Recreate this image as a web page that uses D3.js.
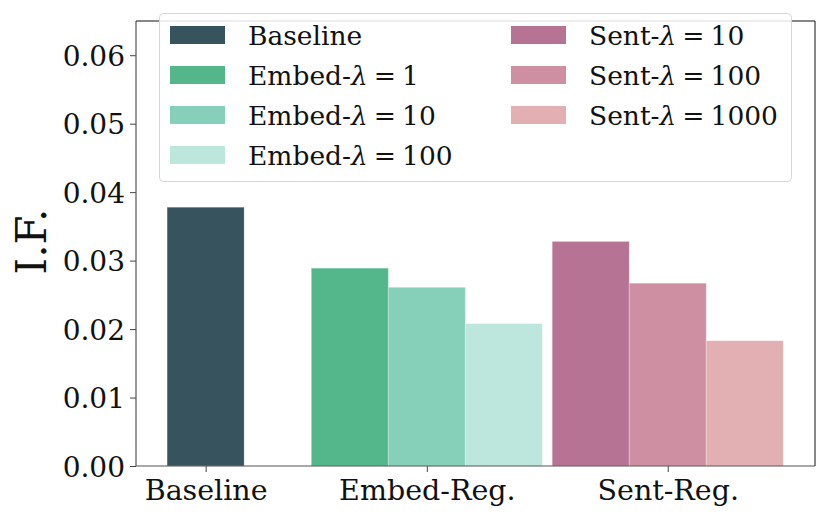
<!DOCTYPE html>
<html><head><meta charset="utf-8">
<script src="https://cdn.jsdelivr.net/npm/d3@7"></script>
<style>body{margin:0;background:#fff}svg{display:block}text{font-family:"DejaVu Serif",serif}</style>
</head><body>
<svg id="chart" width="830" height="519"></svg>
<script>
const categories = ["Baseline", "Embed-Reg.", "Sent-Reg."];
const seriesNames = ["Baseline", "Embed-λ=1", "Embed-λ=10", "Embed-λ=100", "Sent-λ=10", "Sent-λ=100", "Sent-λ=1000"];
const seriesGroup = [0, 1, 1, 1, 2, 2, 2];
const seriesOffset = [0, -1, 0, 1, -1, 0, 1];
const seriesValues = [0.0378, 0.0289, 0.0261, 0.0208, 0.0328, 0.0267, 0.0183];
const seriesColors = ["#37535e", "#53b78b", "#86cfb8", "#bde6dd", "#b77394", "#cf8fa3", "#e2b0b3"];
const yTicks = [0, 0.01, 0.02, 0.03, 0.04, 0.05, 0.06];

// layout
const groupCenters = [0, 0.718, 1.5];
const barW = 0.25;
const pL = 136, pR = 815, pT = 21, pB = 466;

const svg = d3.select("#chart");
const x = d3.scaleLinear().domain([-0.226, 1.978]).range([pL, pR]);
const y = d3.scaleLinear().domain([0, 0.065]).range([pB, pT]);

// bars
svg.append("g").selectAll("rect").data(seriesValues).join("rect")
  .attr("x", (d, i) => x(groupCenters[seriesGroup[i]] + seriesOffset[i] * barW - barW / 2))
  .attr("width", x(barW) - x(0))
  .attr("y", d => y(d))
  .attr("height", d => y(0) - y(d))
  .attr("fill", (d, i) => seriesColors[i])
  .attr("stroke", "#ffffff").attr("stroke-opacity", 0.25).attr("stroke-width", 1);

// axes
const yAxis = d3.axisLeft(y).tickValues(yTicks).tickFormat(d3.format(".2f")).tickSize(6).tickPadding(5);
const gy = svg.append("g").attr("transform", `translate(${pL},0)`).call(yAxis);
gy.select(".domain").remove();
gy.selectAll(".tick line").attr("stroke", "#444");
gy.selectAll(".tick text").attr("font-size", 28).attr("fill", "#111").attr("dy", "0.36em");

const xAxis = d3.axisBottom(x).tickValues(groupCenters).tickFormat((d, i) => categories[i]).tickSize(6).tickPadding(6);
const gx = svg.append("g").attr("transform", `translate(0,${pB})`).call(xAxis);
gx.select(".domain").remove();
gx.selectAll(".tick line").attr("stroke", "#444");
gx.selectAll(".tick text").attr("font-size", 28.5).attr("fill", "#111").attr("dy", "0.77em");

// spines
svg.append("line").attr("x1", pL).attr("x2", pL).attr("y1", pT).attr("y2", pB).attr("stroke", "#555").attr("stroke-width", 1.2);
svg.append("line").attr("x1", pL).attr("x2", pR).attr("y1", pB).attr("y2", pB).attr("stroke", "#555").attr("stroke-width", 1.2);
svg.append("line").attr("x1", pL).attr("x2", pR).attr("y1", pT).attr("y2", pT).attr("stroke", "#111").attr("stroke-width", 1);
svg.append("line").attr("x1", pR).attr("x2", pR).attr("y1", pT).attr("y2", pB).attr("stroke", "#111").attr("stroke-width", 1);

// y label
svg.append("text").attr("transform", `translate(46,${(pT + pB) / 2 - 2}) rotate(-90)`)
  .attr("text-anchor", "middle").attr("font-size", 42).attr("fill", "#111").text("I.F.");

// legend
const lg = svg.append("g");
lg.append("rect").attr("x", 159.5).attr("y", 13.5).attr("width", 632).attr("height", 168).attr("rx", 4)
  .attr("fill", "#fff").attr("fill-opacity", 0.85).attr("stroke", "#d6d6d6").attr("stroke-width", 1);
const colX = [170, 511], textX = [248, 589], rowY0 = 35, rowDy = 40;
seriesNames.forEach((name, i) => {
  const col = i < 4 ? 0 : 1, row = i < 4 ? i : i - 4;
  const cy = rowY0 + row * rowDy;
  lg.append("rect").attr("x", colX[col]).attr("y", cy - 9).attr("width", 55).attr("height", 18).attr("fill", seriesColors[i]);
  const t = lg.append("text").attr("x", textX[col]).attr("y", cy).attr("dy", "0.36em").attr("font-size", 26.5).attr("fill", "#111");
  const parts = name.split("λ=");
  if (parts.length === 2) {
    t.append("tspan").text(parts[0]);
    t.append("tspan").attr("font-style", "italic").text("λ");
    t.append("tspan").attr("dx", 6).text("=");
    t.append("tspan").attr("dx", 6).text(parts[1]);
  } else {
    t.text(name);
  }
});
</script>
</body></html>
